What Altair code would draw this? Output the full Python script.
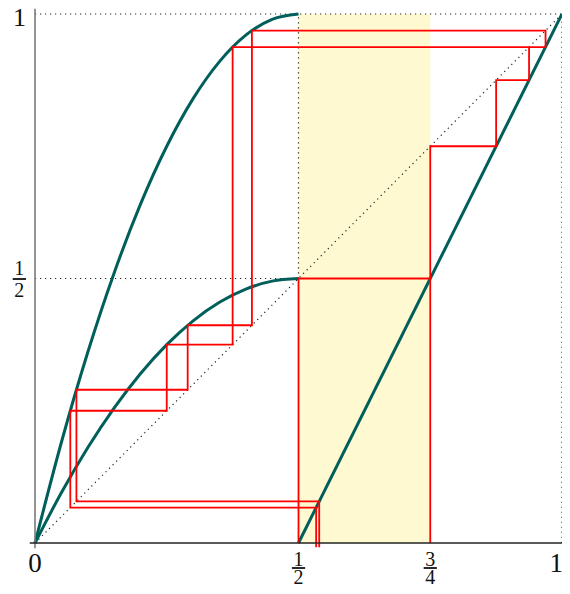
import altair as alt
import pandas as pd

# ---- data ----
curve_x = [0.0, 0.05, 0.1, 0.15, 0.2, 0.25, 0.3, 0.35, 0.4, 0.45, 0.5]
upper_y = [0.0, 0.19, 0.36, 0.51, 0.64, 0.75, 0.84, 0.91, 0.96, 0.99, 1.0]
lower_y = [0.0, 0.095, 0.18, 0.255, 0.32, 0.375, 0.42, 0.455, 0.48, 0.495, 0.5]
line_x = [0.5, 1.0]
line_y = [0.0, 1.0]

# red cobweb paths
pathA_x = [0.5, 0.5, 0.75, 0.75, 0.875, 0.875, 0.9375, 0.9375, 0.375, 0.375, 0.25, 0.25, 0.067, 0.067, 0.5335, 0.5335]
pathA_y = [0.0, 0.5, 0.5, 0.75, 0.75, 0.875, 0.875, 0.9375, 0.9375, 0.375, 0.375, 0.25, 0.25, 0.067, 0.067, -0.008]
pathB_x = [0.9375, 0.96875, 0.96875, 0.4116, 0.4116, 0.2897, 0.2897, 0.0786, 0.0786, 0.5393, 0.5393]
pathB_y = [0.9375, 0.9375, 0.96875, 0.96875, 0.4116, 0.4116, 0.2897, 0.2897, 0.0786, 0.0786, -0.008]
pathC_x = [0.75, 0.75]
pathC_y = [0.0, 0.5]

# dotted guide lines (x1, y1, x2, y2)
guide_x1 = [0.0, 0.0, 1.0, 0.0, 0.5]
guide_y1 = [0.0, 1.0, 0.0, 0.5, 0.5]
guide_x2 = [1.0, 1.0, 1.0, 0.5, 0.5]
guide_y2 = [1.0, 1.0, 1.0, 0.5, 1.0]

# shaded band
band_x = [0.5]
band_x2 = [0.75]

# tick labels
xwhole_v = [0.0, 1.0]
xwhole_t = ["0", "1"]
xfrac_v = [0.5, 0.75]
xfrac_num = ["1", "3"]
xfrac_den = ["2", "4"]
ywhole_v = [1.0]
ywhole_t = ["1"]
yfrac_v = [0.5]
yfrac_num = ["1"]
yfrac_den = ["2"]

TEAL = "#005F5A"
RED = "#FF0000"
FONT = "Liberation Serif"
INK = "#111111"

xs = alt.Scale(domain=[0, 1], nice=False, zero=False)
ys = alt.Scale(domain=[0, 1], nice=False, zero=False)

def X(f):
    return alt.X(f, type="quantitative", scale=xs, axis=None)

def Y(f):
    return alt.Y(f, type="quantitative", scale=ys, axis=None)

band_df = pd.DataFrame({"x": band_x, "x2": band_x2, "y": [0.0], "y2": [1.0]})
band = alt.Chart(band_df).mark_rect(color="#FFF9D2").encode(
    x=X("x"), x2="x2", y=Y("y"), y2="y2")

guide_df = pd.DataFrame({"x": guide_x1, "y": guide_y1, "x2": guide_x2, "y2": guide_y2})
guides = alt.Chart(guide_df).mark_rule(
    color="#222222", strokeWidth=1.2, strokeDash=[1.2, 3.8]).encode(
    x=X("x"), y=Y("y"), x2="x2", y2="y2")

curve_rows = []
for i, (a, b) in enumerate(zip(curve_x, upper_y)):
    curve_rows.append({"c": "upper", "i": i, "x": a, "y": b})
for i, (a, b) in enumerate(zip(curve_x, lower_y)):
    curve_rows.append({"c": "lower", "i": i, "x": a, "y": b})
for i, (a, b) in enumerate(zip(line_x, line_y)):
    curve_rows.append({"c": "line", "i": i, "x": a, "y": b})
curves = alt.Chart(pd.DataFrame(curve_rows)).mark_line(
    color=TEAL, strokeWidth=3, interpolate="monotone").encode(
    x=X("x"), y=Y("y"), detail="c:N", order="i:Q")

red_rows = []
for name, px, py in [("A", pathA_x, pathA_y), ("B", pathB_x, pathB_y), ("C", pathC_x, pathC_y)]:
    for i, (a, b) in enumerate(zip(px, py)):
        red_rows.append({"p": name, "i": i, "x": a, "y": b})
red = alt.Chart(pd.DataFrame(red_rows)).mark_line(
    color=RED, strokeWidth=1.8, strokeJoin="miter").encode(
    x=X("x"), y=Y("y"), detail="p:N", order="i:Q")

# axes lines
axl = alt.Chart(pd.DataFrame({"x": [0.0], "y": [-0.01], "y2": [1.01]})).mark_rule(
    color="#7a7a7a", strokeWidth=1.6).encode(x=X("x"), y=Y("y"), y2="y2")
axb = alt.Chart(pd.DataFrame({"y": [0.0], "x": [-0.01], "x2": [1.01]})).mark_rule(
    color="#222222", strokeWidth=1.5).encode(y=Y("y"), x=X("x"), x2="x2")

# bottom labels
xw_df = pd.DataFrame({"v": xwhole_v, "t": xwhole_t, "y": [0.0, 0.0]})
xw0 = alt.Chart(xw_df.iloc[[0]]).mark_text(font=FONT, fontSize=27, baseline="alphabetic",
                                          align="center", dy=29, color=INK).encode(
    x=X("v"), y=Y("y"), text="t:N")
xw1 = alt.Chart(xw_df.iloc[[1]]).mark_text(font=FONT, fontSize=27, baseline="alphabetic",
                                          align="right", dy=29, dx=1, color=INK).encode(
    x=X("v"), y=Y("y"), text="t:N")
xf_df = pd.DataFrame({"v": xfrac_v, "n": xfrac_num, "d": xfrac_den, "y": [0.0, 0.0]})
xn = alt.Chart(xf_df).mark_text(font=FONT, fontSize=20, baseline="alphabetic",
                                align="center", dy=22.5, color=INK).encode(
    x=X("v"), y=Y("y"), text="n:N")
xd = alt.Chart(xf_df).mark_text(font=FONT, fontSize=20, baseline="alphabetic",
                                align="center", dy=41, color=INK).encode(
    x=X("v"), y=Y("y"), text="d:N")
xbar = alt.Chart(xf_df).mark_rule(color=INK, strokeWidth=1.8,
                                  xOffset=-6.6, x2Offset=6.6, yOffset=25).encode(
    x=X("v"), x2="v", y=Y("y"))

# left labels
yw_df = pd.DataFrame({"v": ywhole_v, "t": ywhole_t, "x": [0.0]})
yw = alt.Chart(yw_df).mark_text(font=FONT, fontSize=26, baseline="alphabetic",
                                align="center", dx=-15.5, dy=12, color=INK).encode(
    x=X("x"), y=Y("v"), text="t:N")
yf_df = pd.DataFrame({"v": yfrac_v, "n": yfrac_num, "d": yfrac_den, "x": [0.0]})
yn = alt.Chart(yf_df).mark_text(font=FONT, fontSize=20, baseline="alphabetic",
                                align="center", dx=-15.7, dy=-3.5, color=INK).encode(
    x=X("x"), y=Y("v"), text="n:N")
yd = alt.Chart(yf_df).mark_text(font=FONT, fontSize=20, baseline="alphabetic",
                                align="center", dx=-15.7, dy=18.2, color=INK).encode(
    x=X("x"), y=Y("v"), text="d:N")
ybar = alt.Chart(yf_df).mark_rule(color=INK, strokeWidth=1.8,
                                  xOffset=-22.3, x2Offset=-9, yOffset=0.5).encode(
    x=X("x"), x2="x", y=Y("v"))

chart = alt.layer(band, guides, curves, red, axl, axb, xw0, xw1, xn, xd, xbar, yw, yn, yd, ybar).properties(
    width=527, height=529,
    autosize=alt.AutoSizeParams(type="none"),
    padding={"left": 27, "top": 6, "right": 0, "bottom": 43},
).configure_view(stroke=None)

chart.save("out.html", embed_options={"renderer": "svg", "actions": False})
